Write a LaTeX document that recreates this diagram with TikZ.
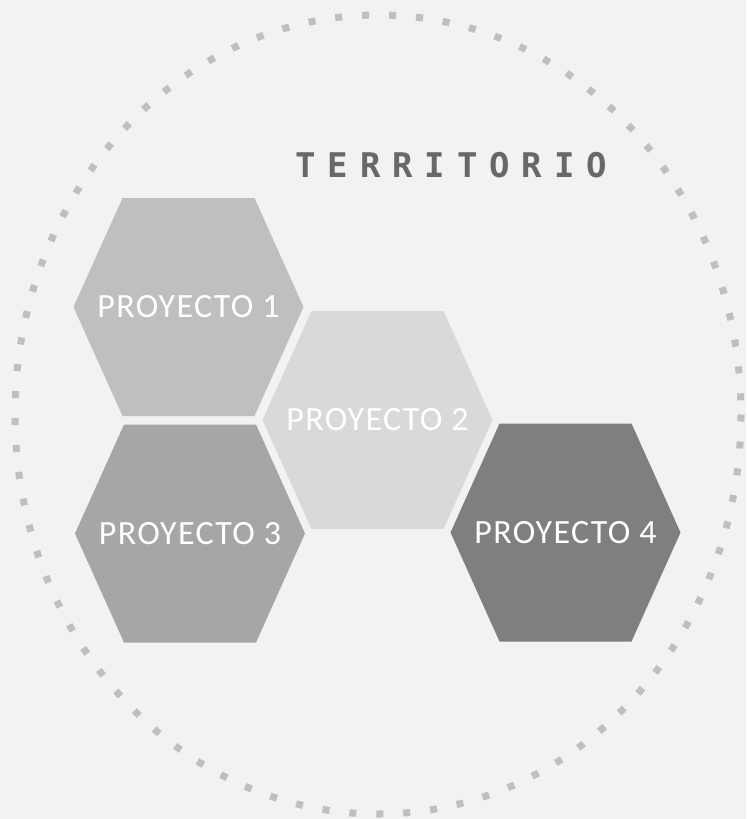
\documentclass[tikz,border=0pt]{standalone}
\usepackage{fontspec}
\setmainfont{Carlito}
\newfontfamily\titlefont[LetterSpace=35]{DejaVu Sans Mono}
\usetikzlibrary{calc}

\definecolor{bgcol}{HTML}{F2F2F2}
\definecolor{ringcol}{HTML}{BFBFBF}
\definecolor{titlecol}{HTML}{686868}
\definecolor{hexA}{HTML}{BFBFBF}
\definecolor{hexB}{HTML}{D9D9D9}
\definecolor{hexC}{HTML}{A6A6A6}
\definecolor{hexD}{HTML}{7F7F7F}

% one cell: name, centre, fill colour, text
\newcommand{\hexcell}[4]{%
  \fill[#3] #2 ++(-115,0) -- ++(49,-109) -- ++(132,0) -- ++(49,109)
    -- ++(-49,109) -- ++(-132,0) -- cycle;
  \node[projlabel] (#1) at #2 {#4};}

\begin{document}
\begin{tikzpicture}[
  x=0.5pt, y=-0.5pt,
  dotring/.style={draw=ringcol,line width=3.5pt,dash pattern=on 3.5pt off 10pt},
  projlabel/.style={text=white,inner sep=0pt,
                    font=\fontsize{17}{20}\selectfont\addfontfeature{LetterSpace=4}},
  titlelabel/.style={text=titlecol,inner sep=0pt,anchor=base west,
                     font=\titlefont\bfseries\fontsize{17}{20}\selectfont},
]

%% ===== Frame =================================================================
\fill[bgcol] (0,0) rectangle (746,819);
\useasboundingbox (0,0) rectangle (746,819);

%% ===== Dotted territory ring =================================================
\draw[dotring] (378,414.5) ellipse [x radius=363, y radius=399.5];
\node[titlelabel] (title) at (295,177) {TERRITORIO};

%% ===== Project cells =========================================================
\hexcell{proj1}{(188.5,307)}{hexA}{PROYECTO 1}
\hexcell{proj2}{(377.5,420)}{hexB}{PROYECTO 2}
\hexcell{proj3}{(190,533.5)}{hexC}{PROYECTO 3}
\hexcell{proj4}{(565.5,532.5)}{hexD}{PROYECTO 4}

\end{tikzpicture}
\end{document}
